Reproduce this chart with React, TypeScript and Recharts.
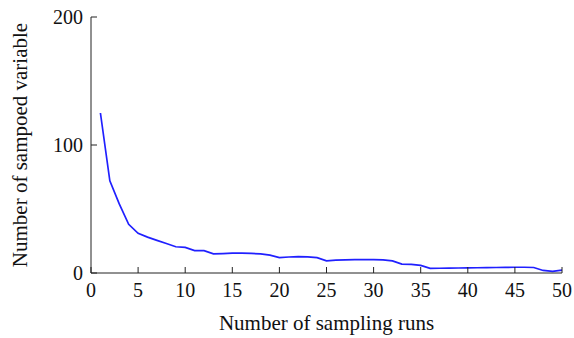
import { LineChart, Line, XAxis, YAxis } from 'recharts';

// sampling run index and number of sampled variables
const runs = [
    1, 2, 3, 4, 5, 6, 7, 8, 9, 10,
    11, 12, 13, 14, 15, 16, 17, 18, 19, 20,
    21, 22, 23, 24, 25, 26, 27, 28, 29, 30,
    31, 32, 33, 34, 35, 36, 37, 38, 39, 40,
    41, 42, 43, 44, 45, 46, 47, 48, 49, 50
];
const sampledVars = [
    125, 72, 54, 38, 31, 28, 25.5, 23, 20.5, 20,
    17.5, 17.5, 15, 15.2, 15.5, 15.5, 15.3, 15, 14, 12,
    12.5, 12.8, 12.6, 12, 9.5, 10, 10.2, 10.4, 10.5, 10.5,
    10.2, 9.5, 7, 6.8, 6, 3.6, 3.7, 3.8, 3.9, 4,
    4.1, 4.2, 4.3, 4.4, 4.5, 4.5, 4.3, 2, 1.3, 2.3
];
const xTicks = [0, 5, 10, 15, 20, 25, 30, 35, 40, 45, 50];
const yTicks = [0, 100, 200];

const data = runs.map((run, i) => ({ run, value: sampledVars[i] }));

const FONT = '"Liberation Serif", "Times New Roman", serif';

// serif tick text; x axis hangs below, y axis is centred on the tick
const XTick = (props: any) => (
    <text x={props.x} y={props.y} dy="0.71em" textAnchor="middle"
        style={{ fontFamily: FONT, fontSize: 20, fill: '#111' }}>
        {props.payload.value}
    </text>
);
const YTick = (props: any) => (
    <text x={props.x} y={props.y} dy="0.355em" textAnchor="end"
        style={{ fontFamily: FONT, fontSize: 20, fill: '#111' }}>
        {props.payload.value}
    </text>
);

export default function App() {
    return (
        <div style={{ position: 'absolute', left: 0, top: 0, background: '#fff' }}>
            <LineChart
                width={574}
                height={338}
                data={data}
                margin={{ top: 17, right: 12, bottom: 0, left: 21 }}
            >
                <XAxis
                    type="number"
                    dataKey="run"
                    domain={[0, 50]}
                    ticks={xTicks}
                    interval={0}
                    height={65}
                    stroke="#222"
                    tickSize={-6}
                    tickMargin={16}
                    tick={XTick}
                    label={{
                        value: 'Number of sampling runs',
                        position: 'insideBottom',
                        offset: 8,
                        style: { fill: '#111', fontSize: 21, fontFamily: FONT }
                    }}
                />
                <YAxis
                    type="number"
                    domain={[0, 200]}
                    ticks={yTicks}
                    interval={0}
                    width={70}
                    stroke="#222"
                    tickSize={-6}
                    tickMargin={14}
                    tick={YTick}
                    label={{
                        value: 'Number of sampoed variable',
                        angle: -90,
                        position: 'insideLeft',
                        offset: -1,
                        style: { textAnchor: 'middle', fill: '#111', fontSize: 21, fontFamily: FONT }
                    }}
                />
                <Line
                    type="linear"
                    dataKey="value"
                    stroke="#2020ff"
                    strokeWidth={1.7}
                    dot={false}
                    isAnimationActive={false}
                />
            </LineChart>
        </div>
    );
}
